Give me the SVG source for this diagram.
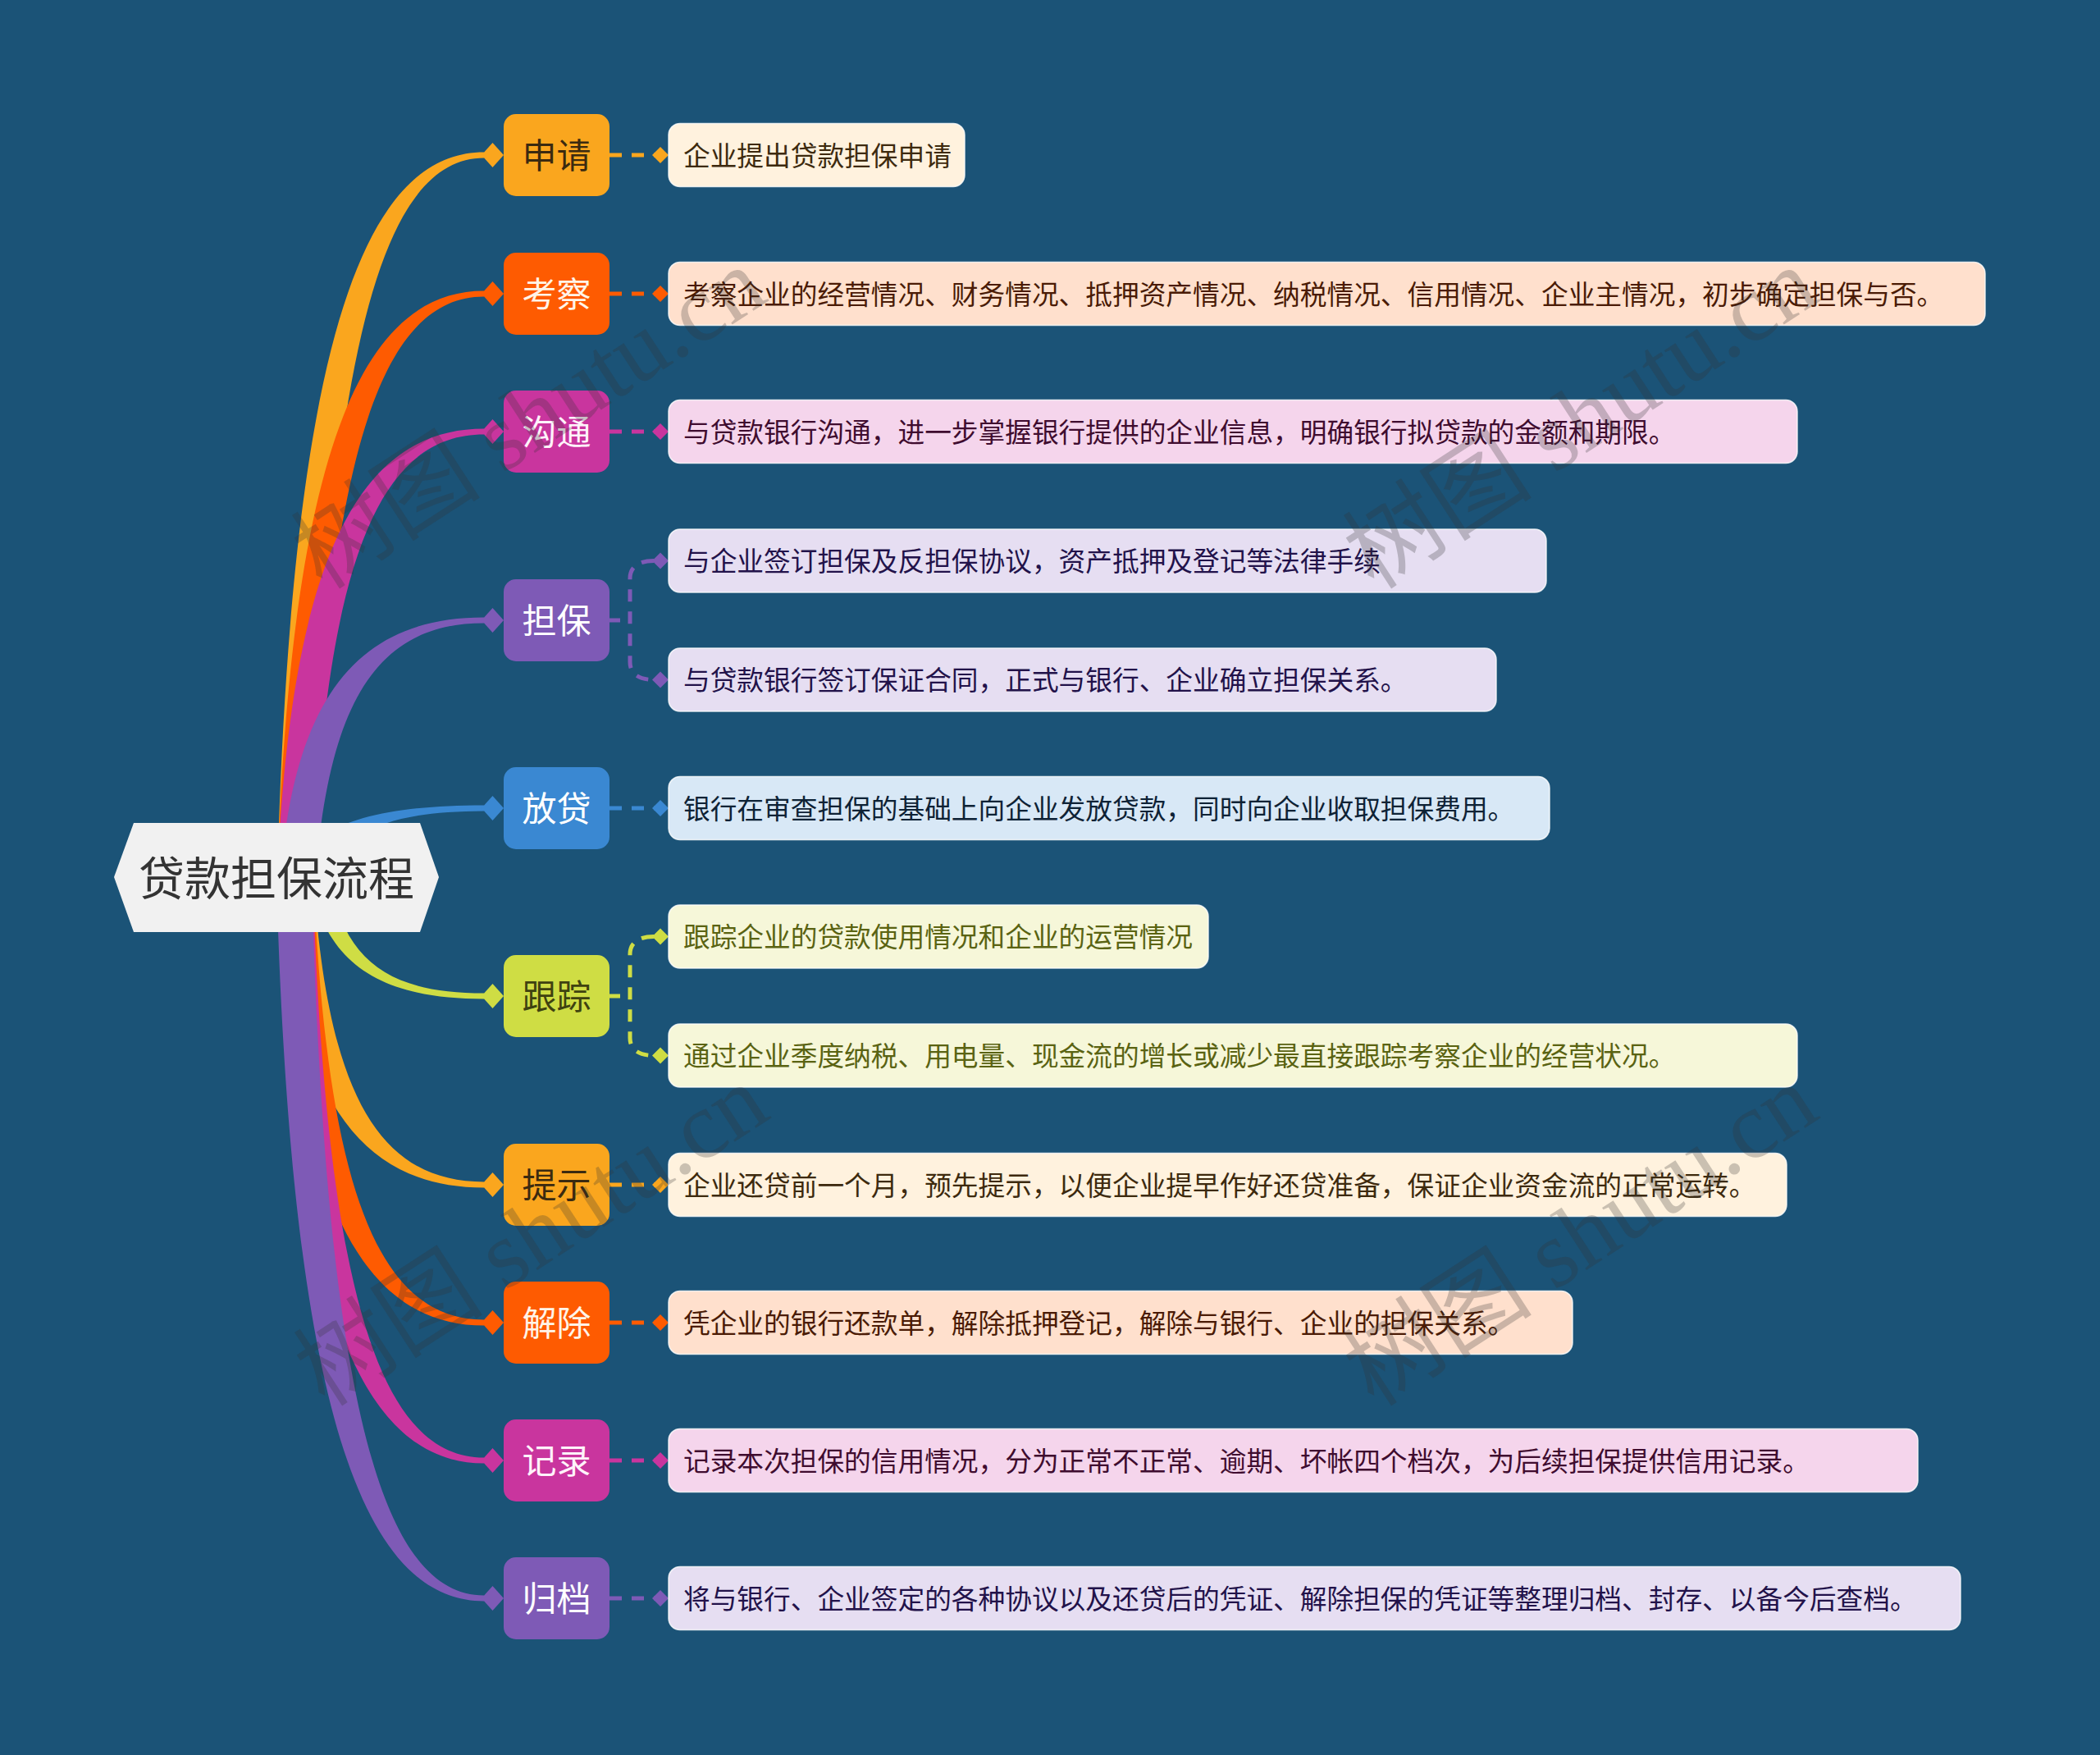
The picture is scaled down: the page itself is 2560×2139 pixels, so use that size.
<svg xmlns="http://www.w3.org/2000/svg" width="2560" height="2139" viewBox="0 0 2560 2139">
<style>
.nt{font-family:"Noto Sans CJK SC","Noto Sans",sans-serif;font-size:42px;text-anchor:middle;dominant-baseline:central}
.dt{font-family:"Noto Sans CJK SC","Noto Sans",sans-serif;font-size:32.7px;dominant-baseline:central}
.wm{font-family:"Liberation Serif","Noto Sans CJK SC",serif;font-size:116px;fill:#333;fill-opacity:0.26;text-anchor:middle;dominant-baseline:central}
.dash{fill:none;stroke-width:5;stroke-dasharray:15 12}
.box{stroke:#fff;stroke-opacity:0.8;stroke-width:1.5}
</style>
<rect width="2560" height="2139" fill="#1B5377"/>
<g id="connectors">
<path fill="#3A88D2" d="M355,1069 C372,1008.5 449,981.5 590,981.5 L590,988.5 C480,989 420,1010 400,1069 Z"/>
<path fill="#FAA61E" d="M338,1069 C355,435.4 438.8,185.5 590,185.5 L590,192.5 C464,192.5 397,435.4 380,1069 Z"/>
<path fill="#FE5B01" d="M338,1069 C355,557.1 438.8,354.5 590,354.5 L590,361.5 C464,361.5 397,557.1 380,1069 Z"/>
<path fill="#C9359E" d="M338,1069 C355,678 438.8,522.5 590,522.5 L590,529.5 C464.6,529.5 398,678 381,1069 Z"/>
<path fill="#7E5AB6" d="M342,1069 C359,843.6 441.2,752.5 590,752.5 L590,759.5 C467,759.5 402,843.6 385,1069 Z"/>
<path fill="#CFDD44" d="M378,1069 C395,1173.4 462.8,1217.5 590,1217.5 L590,1210.5 C477.2,1210.5 419,1173.4 402,1069 Z"/>
<path fill="#FAA61E" d="M340,1069 C357,1339 440,1447.5 590,1447.5 L590,1440.5 C465.2,1440.5 399,1339 382,1069 Z"/>
<path fill="#FE5B01" d="M340,1069 C357,1460 440,1615.5 590,1615.5 L590,1608.5 C465.2,1608.5 399,1460 382,1069 Z"/>
<path fill="#C9359E" d="M338,1069 C355,1580.9 438.8,1783.5 590,1783.5 L590,1776.5 C464.6,1776.5 398,1580.9 381,1069 Z"/>
<path fill="#7E5AB6" d="M337,1069 C354,1701.9 438.2,1951.5 590,1951.5 L590,1944.5 C464,1944.5 397,1701.9 380,1069 Z"/>
<polygon fill="#FAA61E" points="587,189 600.5,174 614,189 600.5,204"/>
<polygon fill="#FE5B01" points="587,358 600.5,343 614,358 600.5,373"/>
<polygon fill="#C9359E" points="587,526 600.5,511 614,526 600.5,541"/>
<polygon fill="#7E5AB6" points="587,756 600.5,741 614,756 600.5,771"/>
<polygon fill="#3A88D2" points="587,985 600.5,970 614,985 600.5,1000"/>
<polygon fill="#CFDD44" points="587,1214 600.5,1199 614,1214 600.5,1229"/>
<polygon fill="#FAA61E" points="587,1444 600.5,1429 614,1444 600.5,1459"/>
<polygon fill="#FE5B01" points="587,1612 600.5,1597 614,1612 600.5,1627"/>
<polygon fill="#C9359E" points="587,1780 600.5,1765 614,1780 600.5,1795"/>
<polygon fill="#7E5AB6" points="587,1948 600.5,1933 614,1948 600.5,1963"/>
<path class="dash" stroke="#FAA61E" d="M743,189 H798"/>
<polygon fill="#FAA61E" points="795,189 805,179 815,189 805,199"/>
<path class="dash" stroke="#FE5B01" d="M743,358 H798"/>
<polygon fill="#FE5B01" points="795,358 805,348 815,358 805,368"/>
<path class="dash" stroke="#C9359E" d="M743,526 H798"/>
<polygon fill="#C9359E" points="795,526 805,516 815,526 805,536"/>
<path class="dash" stroke="#7E5AB6" d="M743,756 H756"/>
<path class="dash" stroke="#7E5AB6" d="M797,683.5 C780,683.5 768,690 768,705 L768,807 C768,822 780,828.5 797,828.5"/>
<polygon fill="#7E5AB6" points="795,683.5 805,673.5 815,683.5 805,693.5"/>
<polygon fill="#7E5AB6" points="795,828.5 805,818.5 815,828.5 805,838.5"/>
<path class="dash" stroke="#3A88D2" d="M743,985 H798"/>
<polygon fill="#3A88D2" points="795,985 805,975 815,985 805,995"/>
<path class="dash" stroke="#CFDD44" d="M743,1214 H756"/>
<path class="dash" stroke="#CFDD44" d="M797,1141.5 C780,1141.5 768,1148 768,1163 L768,1265 C768,1280 780,1286.5 797,1286.5"/>
<polygon fill="#CFDD44" points="795,1141.5 805,1131.5 815,1141.5 805,1151.5"/>
<polygon fill="#CFDD44" points="795,1286.5 805,1276.5 815,1286.5 805,1296.5"/>
<path class="dash" stroke="#FAA61E" d="M743,1444 H798"/>
<polygon fill="#FAA61E" points="795,1444 805,1434 815,1444 805,1454"/>
<path class="dash" stroke="#FE5B01" d="M743,1612 H798"/>
<polygon fill="#FE5B01" points="795,1612 805,1602 815,1612 805,1622"/>
<path class="dash" stroke="#C9359E" d="M743,1780 H798"/>
<polygon fill="#C9359E" points="795,1780 805,1770 815,1780 805,1790"/>
<path class="dash" stroke="#7E5AB6" d="M743,1948 H798"/>
<polygon fill="#7E5AB6" points="795,1948 805,1938 815,1948 805,1958"/>
</g>
<g id="root">
<polygon fill="#F1F1F1" points="139,1069 163,1003 512,1003 535,1069 512,1136 163,1136"/>
<text x="337" y="1066" class="nt" style="font-size:56px" fill="#333">贷款担保流程</text>
</g>
<g id="n1"><rect x="614" y="139" width="129" height="100" rx="15" fill="#FAA61E"/><text x="678.5" y="186" class="nt" fill="#3B2A10">申请</text></g>
<g id="n2"><rect x="614" y="308" width="129" height="100" rx="15" fill="#FE5B01"/><text x="678.5" y="355" class="nt" fill="#FFF4E8">考察</text></g>
<g id="n3"><rect x="614" y="476" width="129" height="100" rx="15" fill="#C9359E"/><text x="678.5" y="523" class="nt" fill="#FFF2FA">沟通</text></g>
<g id="n4"><rect x="614" y="706" width="129" height="100" rx="15" fill="#7E5AB6"/><text x="678.5" y="753" class="nt" fill="#FFFFFF">担保</text></g>
<g id="n5"><rect x="614" y="935" width="129" height="100" rx="15" fill="#3A88D2"/><text x="678.5" y="982" class="nt" fill="#FFFFFF">放贷</text></g>
<g id="n6"><rect x="614" y="1164" width="129" height="100" rx="15" fill="#CFDD44"/><text x="678.5" y="1211" class="nt" fill="#3F4210">跟踪</text></g>
<g id="n7"><rect x="614" y="1394" width="129" height="100" rx="15" fill="#FAA61E"/><text x="678.5" y="1441" class="nt" fill="#3B2A10">提示</text></g>
<g id="n8"><rect x="614" y="1562" width="129" height="100" rx="15" fill="#FE5B01"/><text x="678.5" y="1609" class="nt" fill="#FFF4E8">解除</text></g>
<g id="n9"><rect x="614" y="1730" width="129" height="100" rx="15" fill="#C9359E"/><text x="678.5" y="1777" class="nt" fill="#FFF2FA">记录</text></g>
<g id="n10"><rect x="614" y="1898" width="129" height="100" rx="15" fill="#7E5AB6"/><text x="678.5" y="1945" class="nt" fill="#FFFFFF">归档</text></g>
<g id="d1"><rect class="box" x="815" y="150.5" width="361" height="77" rx="14" fill="#FFF2DE"/><text x="833" y="187" class="dt" fill="#3D2A0E">企业提出贷款担保申请</text></g>
<g id="d2"><rect class="box" x="815" y="319.5" width="1605" height="77" rx="14" fill="#FFE0CD"/><text x="833" y="356" class="dt" fill="#4A1B05">考察企业的经营情况、财务情况、抵押资产情况、纳税情况、信用情况、企业主情况，初步确定担保与否。</text></g>
<g id="d3"><rect class="box" x="815" y="487.5" width="1376" height="77" rx="14" fill="#F5D5EC"/><text x="833" y="524" class="dt" fill="#3F0C2F">与贷款银行沟通，进一步掌握银行提供的企业信息，明确银行拟贷款的金额和期限。</text></g>
<g id="d4"><rect class="box" x="815" y="645" width="1070" height="77" rx="14" fill="#E6DEF2"/><text x="833" y="681.5" class="dt" fill="#22124A">与企业签订担保及反担保协议，资产抵押及登记等法律手续</text></g>
<g id="d5"><rect class="box" x="815" y="790" width="1009" height="77" rx="14" fill="#E6DEF2"/><text x="833" y="826.5" class="dt" fill="#22124A">与贷款银行签订保证合同，正式与银行、企业确立担保关系。</text></g>
<g id="d6"><rect class="box" x="815" y="946.5" width="1074" height="77" rx="14" fill="#D8E8F6"/><text x="833" y="983" class="dt" fill="#0E2235">银行在审查担保的基础上向企业发放贷款，同时向企业收取担保费用。</text></g>
<g id="d7"><rect class="box" x="815" y="1103" width="658" height="77" rx="14" fill="#F6F7D9"/><text x="833" y="1139.5" class="dt" fill="#5A6312">跟踪企业的贷款使用情况和企业的运营情况</text></g>
<g id="d8"><rect class="box" x="815" y="1248" width="1376" height="77" rx="14" fill="#F6F7D9"/><text x="833" y="1284.5" class="dt" fill="#5A6312">通过企业季度纳税、用电量、现金流的增长或减少最直接跟踪考察企业的经营状况。</text></g>
<g id="d9"><rect class="box" x="815" y="1405.5" width="1363" height="77" rx="14" fill="#FFF2DE"/><text x="833" y="1442" class="dt" fill="#3D2A0E">企业还贷前一个月，预先提示，以便企业提早作好还贷准备，保证企业资金流的正常运转。</text></g>
<g id="d10"><rect class="box" x="815" y="1573.5" width="1102" height="77" rx="14" fill="#FFE0CD"/><text x="833" y="1610" class="dt" fill="#4A1B05">凭企业的银行还款单，解除抵押登记，解除与银行、企业的担保关系。</text></g>
<g id="d11"><rect class="box" x="815" y="1741.5" width="1523" height="77" rx="14" fill="#F5D5EC"/><text x="833" y="1778" class="dt" fill="#3F0C2F">记录本次担保的信用情况，分为正常不正常、逾期、坏帐四个档次，为后续担保提供信用记录。</text></g>
<g id="d12"><rect class="box" x="815" y="1909.5" width="1575" height="77" rx="14" fill="#E6DEF2"/><text x="833" y="1946" class="dt" fill="#22124A">将与银行、企业签定的各种协议以及还贷后的凭证、解除担保的凭证等整理归档、封存、以备今后查档。</text></g>
<g id="watermark">
<text class="wm" transform="translate(645,510) rotate(-33)">树图 shutu.cn</text>
<text class="wm" transform="translate(1927,510) rotate(-33)">树图 shutu.cn</text>
<text class="wm" transform="translate(648,1506) rotate(-33)">树图 shutu.cn</text>
<text class="wm" transform="translate(1927,1506) rotate(-33)">树图 shutu.cn</text>
</g>
</svg>
